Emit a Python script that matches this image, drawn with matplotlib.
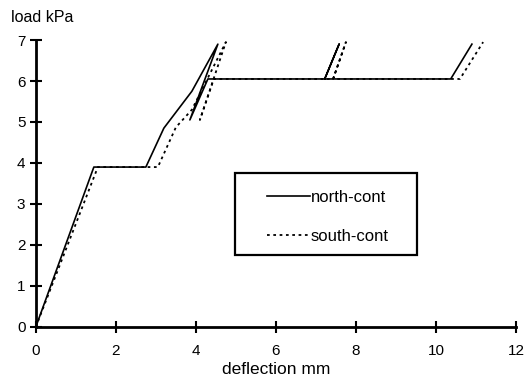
import matplotlib
matplotlib.use("Agg")
import matplotlib.pyplot as plt
from matplotlib.patches import Rectangle

# load-deflection data
north_x = [0, 1.45, 2.75, 3.2, 3.9, 4.55, 3.85, 4.3, 7.22, 7.58, 7.22, 10.37, 10.9]
north_y = [0, 3.9, 3.9, 4.85, 5.75, 6.9, 5.05, 6.05, 6.05, 6.9, 6.05, 6.05, 6.9]
south_x = [0, 1.55, 3.05, 3.5, 3.9, 4.75, 4.1, 4.45, 7.43, 7.75, 7.43, 10.6, 11.18]
south_y = [0, 3.9, 3.9, 4.87, 5.3, 6.95, 5.05, 6.05, 6.05, 6.95, 6.05, 6.05, 6.95]

xticks = [0, 2, 4, 6, 8, 10, 12]
yticks = [0, 1, 2, 3, 4, 5, 6, 7]

plt.rcParams['font.family'] = ['Liberation Sans', 'DejaVu Sans']

fig = plt.figure(figsize=(5.27, 3.85), dpi=100)
ax = fig.add_axes([0.068, 0.151, 0.911, 0.745])

ax.plot(north_x, north_y, color='black', lw=1.2, label='north-cont')
ax.plot(south_x, south_y, color='black', lw=1.3, linestyle=(0, (1.5, 2)), label='south-cont')

ax.set_xlim(0, 12)
ax.set_ylim(0, 7)
ax.set_xticks(xticks)
ax.set_yticks(yticks)
for s in ['top', 'right']:
    ax.spines[s].set_visible(False)
for s in ['left', 'bottom']:
    ax.spines[s].set_linewidth(2)
ax.tick_params(direction='inout', length=8, width=1.5, labelsize=11)
ax.tick_params(axis='x', pad=8)
ax.set_xlabel('deflection mm', fontsize=12.5, labelpad=3)
fig.text(0.02, 0.955, 'load kPa', fontsize=11.5, va='center')

# legend box drawn separately, wide padding like the original
ax.add_patch(Rectangle((0.415, 0.25), 0.379, 0.286, transform=ax.transAxes, fill=False,
                       edgecolor='black', lw=1.6, zorder=3))
leg = ax.legend(loc='center left', bbox_to_anchor=(0.481, 0.3825), frameon=False,
                fontsize=12, handlelength=2.6, handletextpad=0.05,
                labelspacing=1.45, borderpad=0, borderaxespad=0)

fig.savefig('out.png', dpi=100)
